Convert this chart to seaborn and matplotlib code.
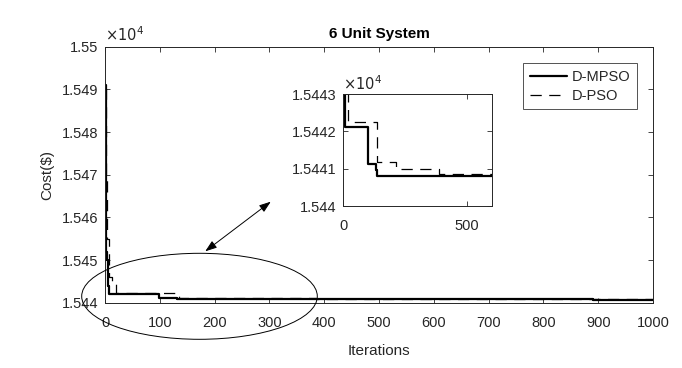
import numpy as np
import pandas as pd
import matplotlib
matplotlib.use("Agg")
import matplotlib.pyplot as plt
import seaborn as sns
from matplotlib.patches import Ellipse, FancyArrowPatch
from matplotlib.ticker import FuncFormatter

sns.set_theme(style="white")
plt.rcParams["font.family"] = ["Liberation Sans", "DejaVu Sans"]

# Convergence curves: iteration at which the best cost changes, and the new best cost ($)
mpso_iter = [0, 1, 2, 3, 5, 6, 8, 99, 132, 138, 890, 1000]
mpso_cost = [15491.0, 15462.0, 15452.0, 15450.0, 15447.0, 15444.0, 15442.11,
             15441.12, 15440.97, 15440.81, 15440.74, 15440.74]
pso_iter = [0, 2, 4, 8, 12, 20, 135, 213, 385, 1000]
pso_cost = [15490.0, 15470.0, 15455.0, 15446.0, 15444.6, 15442.24, 15441.19,
            15440.99, 15440.86, 15440.86]

series_names = ["D-MPSO", "D-PSO"]
main_xticks = list(range(0, 1001, 100))
main_yticks = [15440, 15450, 15460, 15470, 15480, 15490, 15500]
inset_xticks = [0, 500]
inset_yticks = [15440, 15441, 15442, 15443]

df = pd.concat([
    pd.DataFrame({"Iterations": mpso_iter, "Cost": mpso_cost, "Method": series_names[0]}),
    pd.DataFrame({"Iterations": pso_iter, "Cost": pso_cost, "Method": series_names[1]}),
])

fig = plt.figure(figsize=(6.82, 3.68), dpi=100)
fig.patch.set_facecolor("white")

tick_color = "#262626"
sci = FuncFormatter(lambda v, p: "%g" % round(v / 1e4, 6))


def draw(ax, lw_main):
    for name, ls, lw in [(series_names[0], "-", lw_main), (series_names[1], (0, (9, 6)), 0.9)]:
        sub = df[df["Method"] == name]
        sns.lineplot(data=sub, x="Iterations", y="Cost", ax=ax, color="black",
                     linestyle=ls, linewidth=lw, drawstyle="steps-post",
                     label=name, estimator=None, sort=False)


def style(ax):
    for s in ax.spines.values():
        s.set_visible(True)
        s.set_color(tick_color)
        s.set_linewidth(0.7)
    ax.tick_params(direction="in", top=True, right=True, length=3.5, width=0.6,
                   colors=tick_color, labelsize=10.5, bottom=True, left=True)
    ax.tick_params(axis="x", pad=9.5)
    ax.tick_params(axis="y", pad=5)
    ax.yaxis.set_major_formatter(sci)


# Main axes
ax = fig.add_axes([0.154, 0.1774, 0.8035, 0.6957])
draw(ax, 1.6)
ax.set_xlim(0, 1000)
ax.set_ylim(15440, 15500)
ax.set_xticks(main_xticks)
ax.set_yticks(main_yticks)
style(ax)
ax.set_xlabel("Iterations", fontsize=11, color=tick_color, labelpad=10)
ax.set_ylabel("Cost($)", fontsize=11, color=tick_color, labelpad=5)
ax.set_title("6 Unit System", fontsize=11, fontweight="bold", color="black", pad=6)
ax.text(0.0, 1.012, r"$\times10^{4}$", transform=ax.transAxes, fontsize=10.5,
        color=tick_color, ha="left", va="bottom")
leg = ax.legend(loc="upper right", bbox_to_anchor=(0.9708, 0.936), borderaxespad=0,
                fontsize=10.5, frameon=True, fancybox=False, handlelength=2.6,
                handletextpad=0.3, borderpad=0.45, labelspacing=0.35)
leg.get_frame().set_edgecolor("#262626")
leg.get_frame().set_linewidth(0.7)
for t in leg.get_texts():
    t.set_color(tick_color)

# Zoomed view of the early iterations
ins = fig.add_axes([0.5034, 0.4402, 0.2176, 0.3043])
draw(ins, 1.6)
ins.set_xlim(0, 600)
ins.set_ylim(15440, 15443)
ins.set_xticks(inset_xticks)
ins.set_yticks(inset_yticks)
style(ins)
ins.set_xlabel("")
ins.set_ylabel("")
ins.get_legend().remove()
ins.text(0.0, 1.01, r"$\times10^{4}$", transform=ins.transAxes, fontsize=10.5,
         color=tick_color, ha="left", va="bottom")

# Ellipse around the early convergence region and the double arrow to the inset
ell = Ellipse((199.5 / 682, 1 - 296.3 / 368), 235.6 / 682, 86 / 368,
              transform=fig.transFigure, fill=False, edgecolor="black", linewidth=0.7)
fig.add_artist(ell)
arr = FancyArrowPatch((203 / 682, 1 - 253 / 368), (273 / 682, 1 - 200 / 368),
                      transform=fig.transFigure,
                      arrowstyle="<|-|>,head_length=7,head_width=2.5",
                      color="black", linewidth=0.7, mutation_scale=1)
fig.add_artist(arr)

fig.savefig("out.png", dpi=100, facecolor="white")
